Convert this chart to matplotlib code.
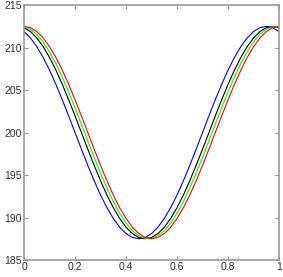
import numpy as np
import matplotlib
matplotlib.use('Agg')
import matplotlib.pyplot as plt

plt.rcParams['font.family'] = ['Liberation Sans', 'DejaVu Sans']

x = np.linspace(0, 1, 41)

red = [212.50, 212.35, 211.89, 211.14, 210.11, 208.84, 207.35, 205.67, 203.86, 201.96,
       200.00, 198.04, 196.14, 194.33, 192.65, 191.16, 189.89, 188.86, 188.11, 187.65,
       187.50, 187.65, 188.11, 188.86, 189.89, 191.16, 192.65, 194.33, 196.14, 198.04,
       200.00, 201.96, 203.86, 205.67, 207.35, 208.84, 210.11, 211.14, 211.89, 212.35,
       212.50]
green = [212.46, 212.15, 211.55, 210.66, 209.51, 208.12, 206.53, 204.78, 202.92, 200.98,
         199.02, 197.08, 195.22, 193.47, 191.88, 190.49, 189.34, 188.45, 187.85, 187.54,
         187.54, 187.85, 188.45, 189.34, 190.49, 191.88, 193.47, 195.22, 197.08, 199.02,
         200.98, 202.92, 204.78, 206.53, 208.12, 209.51, 210.66, 211.55, 212.15, 212.46,
         212.46]
black = [212.35, 211.89, 211.14, 210.11, 208.84, 207.35, 205.67, 203.86, 201.96, 200.00,
         198.04, 196.14, 194.33, 192.65, 191.16, 189.89, 188.86, 188.11, 187.65, 187.50,
         187.65, 188.11, 188.86, 189.89, 191.16, 192.65, 194.33, 196.14, 198.04, 200.00,
         201.96, 203.86, 205.67, 207.35, 208.84, 210.11, 211.14, 211.89, 212.35, 212.50,
         212.35]
blue = [211.89, 211.14, 210.11, 208.84, 207.35, 205.67, 203.86, 201.96, 200.00, 198.04,
        196.14, 194.33, 192.65, 191.16, 189.89, 188.86, 188.11, 187.65, 187.50, 187.65,
        188.11, 188.86, 189.89, 191.16, 192.65, 194.33, 196.14, 198.04, 200.00, 201.96,
        203.86, 205.67, 207.35, 208.84, 210.11, 211.14, 211.89, 212.35, 212.50, 212.35,
        211.89]

xticks = [0, 0.2, 0.4, 0.6, 0.8, 1]
xticklabels = ['0', '0.2', '0.4', '0.6', '0.8', '1']
yticks = [185, 190, 195, 200, 205, 210, 215]

fig = plt.figure(figsize=(2.83, 2.77), dpi=100)
ax = fig.add_axes([0.085, 0.0614, 0.901, 0.920])

ax.plot(x, blue, color='#0000ff', lw=0.8)
ax.plot(x, black, color='#000000', lw=0.8)
ax.plot(x, green, color='#00ff00', lw=0.8)
ax.plot(x, red, color='#ff0000', lw=0.8)

ax.set_xlim(0, 1)
ax.set_ylim(185, 215)
ax.set_xticks(xticks)
ax.set_xticklabels(xticklabels)
ax.set_yticks(yticks)

# matlab-ish box: gray frame, ticks inside on all four sides
for s in ax.spines.values():
    s.set_color('#999999')
    s.set_linewidth(1.2)
ax.tick_params(direction='in', length=3, width=0.8, color='#999999',
               labelsize=7.5, labelcolor='#333333', top=True, right=True, pad=1.5)

fig.savefig('out.png', dpi=100)
